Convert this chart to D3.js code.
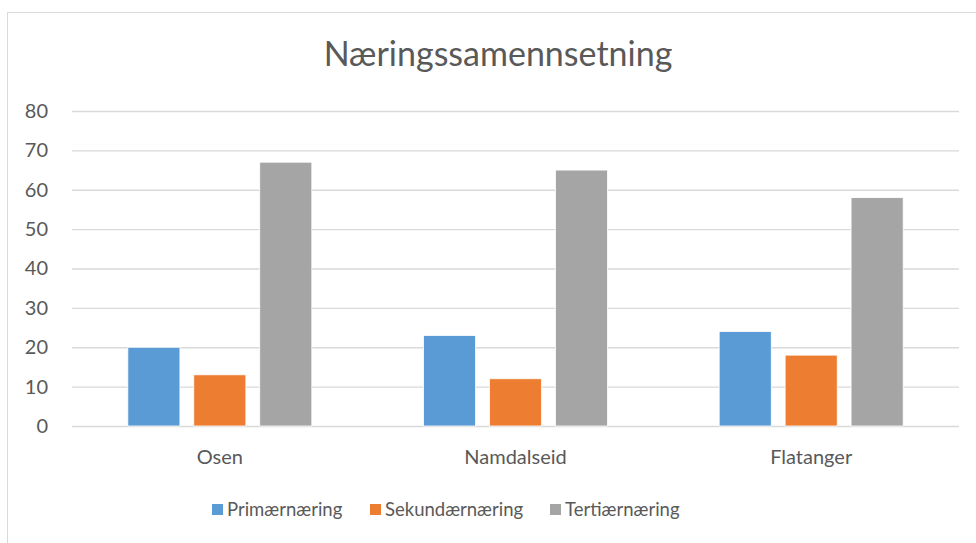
<!DOCTYPE html>
<html>
<head>
<meta charset="utf-8">
<script src="https://cdn.jsdelivr.net/npm/d3@7"></script>
<style>
  body { margin: 0; background: #fff; }
  svg text { font-family: Lato, "Open Sans", sans-serif; fill: #595959; }
</style>
</head>
<body>
<div id="chart"></div>
<script>
const categories = ["Osen", "Namdalseid", "Flatanger"];
const seriesNames = ["Primærnæring", "Sekundærnæring", "Tertiærnæring"];
const primaer = [20, 23, 24];
const sekundaer = [13, 12, 18];
const tertiaer = [67, 65, 58];
const yTicks = [0, 10, 20, 30, 40, 50, 60, 70, 80];
const colors = ["#5B9BD5", "#ED7D31", "#A5A5A5"];

const width = 976;
const height = 543;
const margin = { top: 111, right: 17, bottom: 117, left: 72 };
const innerWidth = width - margin.left - margin.right;
const innerHeight = height - margin.top - margin.bottom;

const svg = d3.select("#chart").append("svg")
  .attr("width", width)
  .attr("height", height);

// chart frame
svg.append("path")
  .attr("d", `M7.5,${height} V12.5 H${width}`)
  .attr("fill", "none")
  .attr("stroke", "#D9D9D9")
  .attr("stroke-width", 1);

svg.append("text")
  .attr("x", 498)
  .attr("y", 66)
  .attr("text-anchor", "middle")
  .style("font-size", "34px")
  .text("Næringssamennsetning");

const g = svg.append("g")
  .attr("transform", `translate(${margin.left},${margin.top})`);

const x = d3.scaleBand()
  .domain(categories)
  .range([0, innerWidth]);

const x1 = d3.scaleBand()
  .domain(seriesNames)
  .range([x.bandwidth() / 2 - 92, x.bandwidth() / 2 + 92])
  .paddingInner(0.21);

const y = d3.scaleLinear()
  .domain([0, 80])
  .range([innerHeight, 0]);

// gridlines
g.append("g")
  .selectAll("line")
  .data(yTicks)
  .enter()
  .append("line")
  .attr("x1", 0)
  .attr("x2", innerWidth)
  .attr("y1", (d) => y(d) + 0.5)
  .attr("y2", (d) => y(d) + 0.5)
  .attr("stroke", "#D9D9D9")
  .attr("stroke-width", 1.3);

// y axis labels
const yAxis = d3.axisLeft(y).tickValues(yTicks).tickSize(0).tickPadding(24);
g.append("g").call(yAxis)
  .call((a) => a.select(".domain").remove())
  .selectAll("text")
  .style("font-size", "20px");

// bars
const data = categories.map((c, i) => ({
  category: c,
  values: [primaer[i], sekundaer[i], tertiaer[i]].map((v, j) => ({ key: seriesNames[j], value: v }))
}));

const groups = g.selectAll(".group")
  .data(data)
  .enter()
  .append("g")
  .attr("transform", (d) => `translate(${x(d.category)},0)`);

groups.selectAll("rect")
  .data((d) => d.values)
  .enter()
  .append("rect")
  .attr("x", (d) => x1(d.key))
  .attr("y", (d) => y(d.value))
  .attr("width", x1.bandwidth())
  .attr("height", (d) => y(0) - y(d.value))
  .attr("fill", (d, i) => colors[i])
  .attr("stroke", "#fff")
  .attr("stroke-width", 0.8);

// x axis labels
const xAxis = d3.axisBottom(x).tickSize(0).tickPadding(24);
g.append("g")
  .attr("transform", `translate(0,${innerHeight})`)
  .call(xAxis)
  .call((a) => a.select(".domain").remove())
  .selectAll("text")
  .style("font-size", "20px");

// legend
const legendX = [212, 370, 550];
const legend = svg.append("g");
const items = legend.selectAll("g")
  .data(seriesNames)
  .enter()
  .append("g")
  .attr("transform", (d, i) => `translate(${legendX[i]},504)`);

items.append("rect")
  .attr("width", 11)
  .attr("height", 11)
  .attr("fill", (d, i) => colors[i]);

items.append("text")
  .attr("x", 15)
  .attr("y", 6)
  .attr("dy", "0.35em")
  .style("font-size", "18.5px")
  .text((d) => d);
</script>
</body>
</html>
